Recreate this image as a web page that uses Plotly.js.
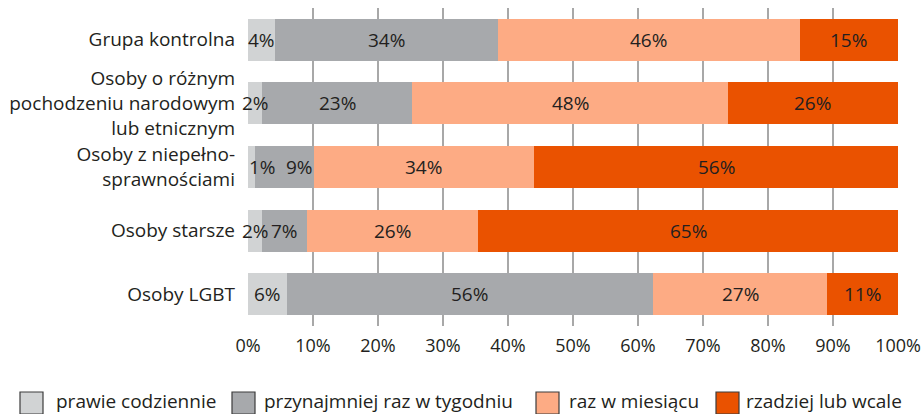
<!DOCTYPE html>
<html>
<head>
<meta charset="utf-8">
<script src="https://cdn.plot.ly/plotly-3.0.1.min.js"></script>
<style>html,body{margin:0;padding:0;background:#fff;}</style>
</head>
<body>
<div id="chart" style="width:921px;height:414px;"></div>
<script>
// Categories (top to bottom)
const categories = [
  "Grupa kontrolna",
  "Osoby o różnym<br>pochodzeniu narodowym<br>lub etnicznym",
  "Osoby z niepełno-<br>sprawnościami",
  "Osoby starsze",
  "Osoby LGBT"
];
const seriesNames = ["prawie codziennie", "przynajmniej raz w tygodniu", "raz w miesiącu", "rzadziej lub wcale"];
const seriesColors = ["#d1d3d4", "#a7a9ac", "#fdab84", "#ea5200"];

// Values (%)
const prawieCodziennie = [4.2, 2.2, 1.1, 2.2, 6.0];
const razWTygodniu     = [34.2, 23.1, 9.0, 6.9, 56.3];
const razWMiesiacu     = [46.5, 48.5, 33.9, 26.3, 26.8];
const rzadziejLubWcale = [15.1, 26.2, 56.0, 64.6, 10.9];

// Printed labels
const labelsPrawie   = ["4%", "2%", "1%", "2%", "6%"];
const labelsTydzien  = ["34%", "23%", "9%", "7%", "56%"];
const labelsMiesiac  = ["46%", "48%", "34%", "26%", "27%"];
const labelsRzadziej = ["15%", "26%", "56%", "65%", "11%"];

const tickVals = [0,10,20,30,40,50,60,70,80,90,100];
const tickText = ["0%","10%","20%","30%","40%","50%","60%","70%","80%","90%","100%"];

const values = [prawieCodziennie, razWTygodniu, razWMiesiacu, rzadziejLubWcale];
const labels = [labelsPrawie, labelsTydzien, labelsMiesiac, labelsRzadziej];

const FONT = "'Open Sans', 'Noto Sans', sans-serif";
const TXT = "#231f20";
const LABEL_SIZE = 19;
const PX_PER_PCT = (921 - 248 - 23) / 100;

const traces = values.map((v, i) => ({
  type: "bar",
  orientation: "h",
  name: seriesNames[i],
  x: v,
  y: categories,
  marker: {color: seriesColors[i], line: {width: 0}},
  showlegend: false,
  hoverinfo: "x+name"
}));

// Segment labels as annotations at segment midpoints (nudged when they would collide)
const annotations = [];
const cum = categories.map(() => 0);
const prevRight = categories.map(() => -100);
values.forEach((v, i) => {
  v.forEach((val, j) => {
    const txt = labels[i][j];
    const wPct = (txt.length * 0.72 * LABEL_SIZE) / PX_PER_PCT;
    const mid = cum[j] + val / 2;
    let x = mid, anchor = "center", right = mid + wPct / 2;
    if (i === 0 && mid < 0.8) {
      x = cum[j]; anchor = "left"; right = cum[j] + wPct;
    } else if (mid - wPct / 2 < prevRight[j]) {
      x = cum[j] + val; anchor = "right"; right = x;
    }
    annotations.push({
      x: x, y: categories[j],
      xref: "x", yref: "y",
      text: txt,
      showarrow: false,
      xanchor: anchor,
      borderpad: 0,
      font: {family: FONT, size: LABEL_SIZE, color: TXT}
    });
    prevRight[j] = right;
    cum[j] += val;
  });
});

// Legend row along the bottom
const legendSquareX = [20, 232, 536, 716];
const legendTextX = [55, 263, 568, 745];
const shapes = [];
seriesNames.forEach((n, i) => {
  shapes.push({
    type: "rect", xref: "paper", yref: "paper",
    xsizemode: "pixel", ysizemode: "pixel",
    xanchor: 0, yanchor: 0,
    x0: legendSquareX[i] - 248, x1: legendSquareX[i] - 248 + 23,
    y0: -66, y1: -88,
    fillcolor: seriesColors[i],
    line: {color: "#3c3c3c", width: 1.2}
  });
  annotations.push({
    xref: "paper", yref: "paper",
    x: 0, y: 0,
    xshift: legendTextX[i] - 248, yshift: -75,
    xanchor: "left", yanchor: "middle",
    borderpad: 0,
    text: n, showarrow: false,
    font: {family: FONT, size: 19, color: TXT}
  });
});

const layout = {
  width: 921, height: 414,
  margin: {l: 248, r: 23, t: 8, b: 88},
  paper_bgcolor: "#fff", plot_bgcolor: "#fff",
  barmode: "stack",
  bargap: 0.34,
  showlegend: false,
  font: {family: FONT, size: 18, color: TXT},
  xaxis: {
    range: [0, 100],
    tickvals: tickVals, ticktext: tickText,
    showgrid: true, gridcolor: "#a8a8a8", gridwidth: 1.3,
    zeroline: false, showline: false,
    ticks: "", ticklabelstandoff: 7,
    tickfont: {family: FONT, size: 18, color: TXT},
    fixedrange: true
  },
  yaxis: {
    type: "category",
    categoryorder: "array", categoryarray: categories,
    autorange: "reversed",
    showgrid: false, zeroline: false, showline: false,
    ticks: "", ticklabelstandoff: 12,
    tickfont: {family: FONT, size: 19, color: TXT},
    fixedrange: true
  },
  shapes: shapes,
  annotations: annotations
};

Plotly.newPlot("chart", traces, layout, {displayModeBar: false, staticPlot: true});
</script>
</body>
</html>
